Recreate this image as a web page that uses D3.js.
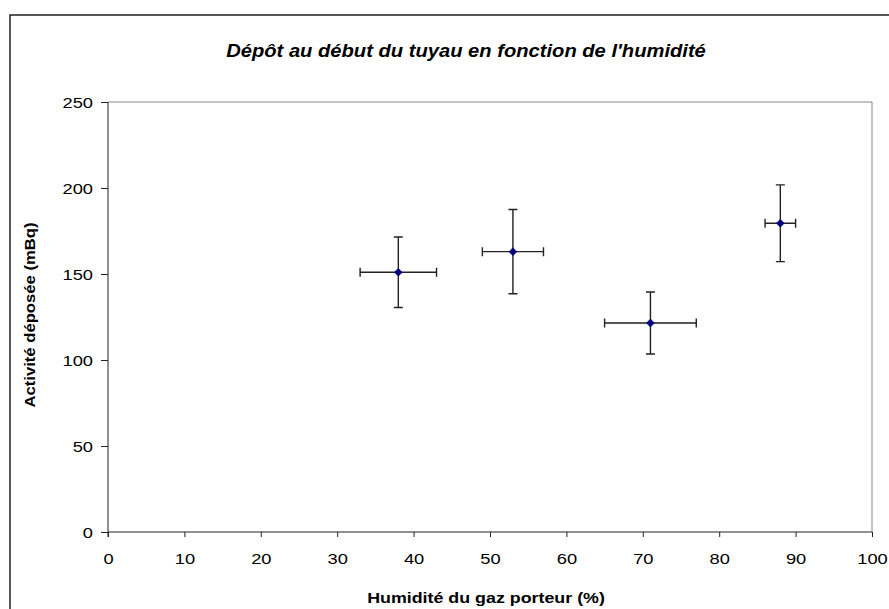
<!DOCTYPE html>
<html><head><meta charset="utf-8">
<script src="https://cdn.jsdelivr.net/npm/d3@7"></script>
<style>body{margin:0;background:#fff}svg{display:block;font-family:"Liberation Sans",Arial,sans-serif}</style>
</head><body><svg id="c" width="889" height="609"></svg>
<script>
const humidity = [38, 53, 71, 88];
const humidityErr = [5, 4, 6, 2];
const activity = [151, 163, 121.5, 179.5];
const activityErr = [20.5, 24.5, 18, 22.3];
const xTicks = [0,10,20,30,40,50,60,70,80,90,100];
const yTicks = [0,50,100,150,200,250];
const title = "Dépôt au début du tuyau en fonction de l'humidité";
const xTitle = "Humidité du gaz porteur (%)";
const yTitle = "Activité déposée (mBq)";

const svg = d3.select("#c");
const L=108, R=872, T=102, B=532;
const x = d3.scaleLinear().domain([0,100]).range([L,R]);
const y = d3.scaleLinear().domain([0,250]).range([B,T]);

// outer border
svg.append("rect").attr("x",10).attr("y",15).attr("width",900).attr("height",700)
  .attr("fill","none").attr("stroke","#222").attr("stroke-width",1.5);
// plot area border
svg.append("path").attr("d",`M${L},${T}H${R}V${B}`).attr("fill","none").attr("stroke","#888").attr("stroke-width",1);

const FS=15, SX=1.22;
const xa = svg.append("g").attr("transform",`translate(0,${B})`)
  .call(d3.axisBottom(x).tickValues(xTicks).tickSize(5).tickSizeOuter(0));
const ya = svg.append("g").attr("transform",`translate(${L},0)`)
  .call(d3.axisLeft(y).tickValues(yTicks).tickSize(7).tickSizeOuter(0));
[xa,ya].forEach(a=>{
  a.selectAll("path,line").attr("stroke","#222");
  a.selectAll("text").attr("font-size",FS).attr("fill","#000").attr("font-family","Liberation Sans, Arial, sans-serif");
});
xa.select(".domain").attr("d",`M${L},0H${R}`);
ya.select(".domain").attr("d",`M0,${T}V${B+5}`);
xa.selectAll(".tick text").attr("x",0).attr("y",0).attr("dy",null)
  .attr("transform",`translate(0,32) scale(${SX},1)`);
ya.selectAll(".tick text").attr("x",0).attr("y",0).attr("dy","0.35em")
  .attr("transform",`translate(-15,0) scale(${SX},1)`);

const data = humidity.map((h,i)=>({h, he:humidityErr[i], a:activity[i], ae:activityErr[i]}));
const g = svg.append("g");
const cap=4.5;
data.forEach(d=>{
  const cx=x(d.h), cy=y(d.a);
  const x1=x(d.h-d.he), x2=x(d.h+d.he), y1=y(d.a+d.ae), y2=y(d.a-d.ae);
  g.append("path").attr("d",
    `M${x1},${cy}H${x2}M${x1},${cy-cap}V${cy+cap}M${x2},${cy-cap}V${cy+cap}`+
    `M${cx},${y1}V${y2}M${cx-cap},${y1}H${cx+cap}M${cx-cap},${y2}H${cx+cap}`)
    .attr("stroke","#222").attr("stroke-width",1.4).attr("fill","none");
});
const diamond = {draw(ctx,size){const r=Math.sqrt(size)/2;ctx.moveTo(0,-r);ctx.lineTo(r,0);ctx.lineTo(0,r);ctx.lineTo(-r,0);ctx.closePath();}};
g.selectAll(".pt").data(data).enter().append("path")
  .attr("d",d3.symbol().type(diamond).size(64))
  .attr("transform",d=>`translate(${x(d.h)},${y(d.a)})`)
  .attr("fill","#000080").attr("stroke","#000080").attr("stroke-width",0.5);

svg.append("text").attr("transform","translate(466,57) scale(1.12,1)").attr("text-anchor","middle")
  .attr("font-size",18).attr("font-weight","bold").attr("font-style","italic").text(title);
svg.append("text").attr("transform","translate(486,603) scale(1.19,1)").attr("text-anchor","middle")
  .attr("font-size",15).attr("font-weight","bold").text(xTitle);
svg.append("text").attr("transform","translate(35,315) rotate(-90) scale(1.15,1)").attr("text-anchor","middle")
  .attr("font-size",14.5).attr("font-weight","bold").text(yTitle);
</script></body></html>
